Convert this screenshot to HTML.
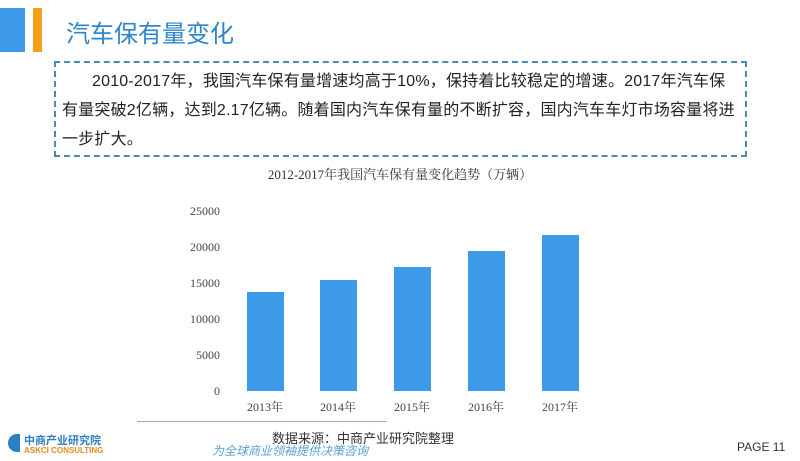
<!DOCTYPE html>
<html><head><meta charset="utf-8"><style>
body{margin:0;width:800px;height:461px;background:#fff;position:relative;overflow:hidden;font-family:"Liberation Sans","Noto Sans CJK SC",sans-serif}
.a{position:absolute}
.bar{position:absolute;background:#3d9ae8;width:37px}
.yl{position:absolute;right:580px;font-family:"Liberation Serif","Noto Serif CJK SC",serif;font-size:12px;color:#444}
.xl{position:absolute;top:398px;font-family:"Liberation Serif","Noto Serif CJK SC",serif;font-size:12px;color:#444;width:60px;text-align:center}
</style></head><body>
<div class="a" style="left:0;top:8px;width:25px;height:44px;background:#3d9ae8"></div>
<div class="a" style="left:33px;top:8px;width:9px;height:44px;background:#f5a01a"></div>
<div class="a" style="left:66px;top:14px;font-size:24px;color:#2f86c9">汽车保有量变化</div>
<div class="a" style="left:54px;top:61px;width:689px;height:92px;border:2px dashed #4a8ab8"></div>
<div class="a" style="left:62px;top:67px;width:690px;font-size:16px;line-height:29px;color:#222;white-space:nowrap;letter-spacing:0.2px"><span style="padding-left:30px"></span>2010-2017年，我国汽车保有量增速均高于10%，保持着比较稳定的增速。2017年汽车保<br>有量突破2亿辆，达到2.17亿辆。随着国内汽车保有量的不断扩容，国内汽车车灯市场容量将进<br>一步扩大。</div>
<div class="a" style="left:0;width:800px;top:164px;text-align:center;font-family:'Liberation Serif','Noto Serif CJK SC',serif;font-size:13px;color:#333">2012-2017年我国汽车保有量变化趋势（万辆）</div>
<div class="yl" style="top:204px">25000</div>
<div class="yl" style="top:240px">20000</div>
<div class="yl" style="top:276px">15000</div>
<div class="yl" style="top:312px">10000</div>
<div class="yl" style="top:348px">5000</div>
<div class="yl" style="top:384px">0</div>
<div class="bar" style="left:247px;top:292px;height:99px"></div>
<div class="bar" style="left:320px;top:280px;height:111px"></div>
<div class="bar" style="left:394px;top:267px;height:124px"></div>
<div class="bar" style="left:468px;top:251px;height:140px"></div>
<div class="bar" style="left:542px;top:235px;height:156px"></div>
<div class="xl" style="left:235px">2013年</div>
<div class="xl" style="left:308px">2014年</div>
<div class="xl" style="left:382px">2015年</div>
<div class="xl" style="left:456px">2016年</div>
<div class="xl" style="left:530px">2017年</div>
<div class="a" style="left:137px;top:421px;width:250px;height:1px;background:#aaa"></div>
<div class="a" style="left:272px;top:428px;font-size:13px;color:#333">数据来源：中商产业研究院整理</div>
<div class="a" style="left:212px;top:442px;font-size:12px;color:#5aa0d8;font-style:italic">为全球商业领袖提供决策咨询</div>
<div class="a" style="left:8px;top:434px;width:12px;height:18px;border-radius:9px 0 0 9px;background:#2d7fc4"></div>
<div class="a" style="left:24px;top:432px;font-size:11px;font-weight:bold;color:#2d7fc4">中商产业研究院</div>
<div class="a" style="left:24px;top:446px;font-size:8px;font-weight:bold;color:#e88a1a">ASKCI CONSULTING</div>
<div class="a" style="left:737px;top:440px;font-size:12px;color:#333">PAGE 11</div>
</body></html>
